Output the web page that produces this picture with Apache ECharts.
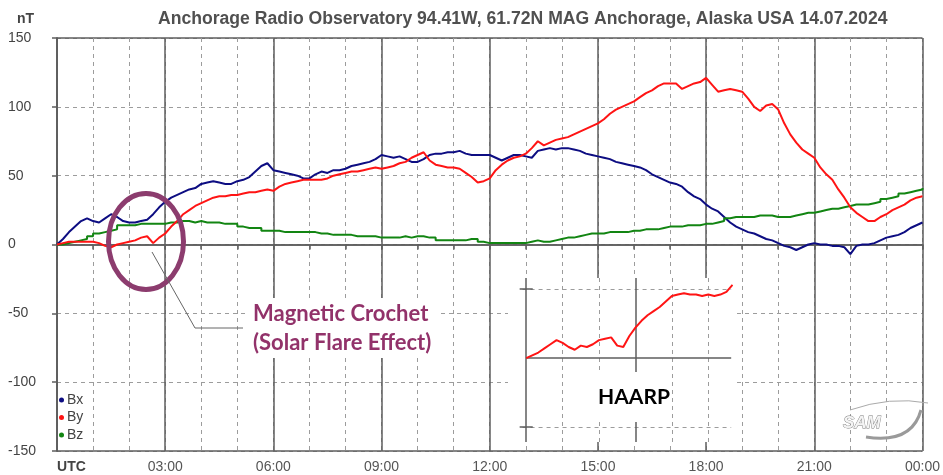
<!DOCTYPE html>
<html>
<head>
<meta charset="utf-8">
<script src="https://cdn.jsdelivr.net/npm/echarts@6/dist/echarts.min.js"></script>
<style>
html,body{margin:0;padding:0;background:#fff;}
#main{position:absolute;left:0;top:0;width:943px;height:475px;}
#inset{position:absolute;left:508px;top:278px;width:225px;height:164px;background:#fff;}
</style>
</head>
<body>
<div id="main"></div>
<div id="inset"></div>
<script>
// ---- categories: time of day in hours, 10-minute steps ----
const TIMES = Array.from({length: 145}, (_, i) => i / 6);
const X_LABELS = ['UTC','03:00','06:00','09:00','12:00','15:00','18:00','21:00','00:00'];
const SERIES_NAMES = ['Bx','By','Bz'];

// ---- Bx (nT) ----
const BX = [
  0,4,9,13,17,19,
  17,16,19,22,20,17,
  16,16,17,18,22,27,
  31,34,36,38,40,41,
  44,45,46,45,44,44,
  46,47,49,53,57,59,
  54,53,52,51,50,48,
  48,51,53,52,54,54,
  55,57,58,59,60,62,
  65,64,63,64,62,60,
  60,62,65,66,66,67,
  67,68,66,65,65,65,
  65,63,61,63,65,65,
  64,63,68,69,70,69,
  70,70,69,68,66,65,
  64,63,62,60,59,58,
  57,56,54,51,49,47,
  45,44,42,38,35,33,
  29,26,24,20,16,13,
  11,9,8,6,4,3,
  1,-1,-2,-4,-2,0,
  1,0,0,-1,-1,-2,
  -7,-1,0,0,1,3,
  5,6,7,9,12,14,
  16
];
// ---- By (nT) ----
const BY = [
  0,1,2,2,2,2,
  2,1,-1,-2,0,1,
  2,3,5,6,1,5,
  8,13,17,22,25,28,
  30,32,34,35,35,36,
  36,37,38,38,39,40,
  39,42,44,45,46,47,
  47,47,47,48,50,51,
  52,53,53,54,55,56,
  55,56,57,59,60,63,
  65,67,61,58,57,56,
  56,55,52,49,45,46,
  48,54,58,61,63,64,
  66,70,75,72,74,76,
  77,78,80,82,84,86,
  88,91,95,98,100,102,
  104,107,110,112,115,117,
  117,117,113,115,117,118,
  121,116,111,112,113,112,
  111,106,100,97,101,102,
  98,88,80,74,69,66,
  63,56,51,47,40,34,
  27,23,20,17,17,20,
  22,25,27,29,32,34,
  35
];
// ---- Bz (nT) ----
const BZ = [
  0,1,2,3,4,6,
  8,9,10,11,14,14,
  14,15,15,15,15,15,
  16,16,17,17,16,17,
  16,16,16,15,15,15,
  13,12,12,12,10,10,
  10,9,9,9,9,9,
  9,8,8,7,7,7,
  7,6,6,6,6,5,
  5,5,5,6,5,6,
  6,5,5,3,3,3,
  3,3,4,4,2,1,
  1,1,1,1,1,1,
  2,3,2,2,3,4,
  5,5,6,7,8,8,
  8,9,9,9,9,10,
  10,11,11,11,12,13,
  13,13,14,14,14,15,
  15,16,17,19,20,20,
  20,20,21,21,21,20,
  20,20,21,22,23,23,
  24,25,26,26,27,28,
  29,29,29,30,31,33,
  34,35,37,38,39,40,
  41
];
// ---- HAARP inset, By (nT), 10-minute steps from 00:00 ----
const HAARP_TIMES = Array.from({length: 35}, (_, i) => i / 6);
const HAARP_BY = [
  0,2,4,7,10,13,
  11,8,6,9,8,10,
  13,14,15,9,8,16,
  22,27,31,34,37,41,
  45,46,47,46,46,45,
  46,45,46,48,53
];

const FONT = "'Liberation Sans', Arial, sans-serif";
const GRID_SOLID = '#5e5e5e';
const GRID_DASH = '#9c9c9c';

const pairs = (xs, ys) => xs.map((t, i) => [t, ys[i]]);

const main = echarts.init(document.getElementById('main'), null, {renderer: 'canvas'});
main.setOption({
  animation: false,
  backgroundColor: '#fff',
  textStyle: {fontFamily: FONT},
  title: [
    {text: 'Anchorage Radio Observatory 94.41W, 61.72N MAG Anchorage, Alaska USA 14.07.2024',
     left: 158, top: 10, padding: 0,
     textStyle: {fontSize: 17.6, fontWeight: 'bold', color: '#505050', fontFamily: FONT}},
    {text: 'nT', left: 17, top: 12, padding: 0,
     textStyle: {fontSize: 14, fontWeight: 'bold', color: '#444', fontFamily: FONT}}
  ],
  grid: {left: 57, top: 38, right: 13, bottom: 24},
  legend: {
    data: SERIES_NAMES, orient: 'vertical', left: 59, top: 393, padding: 0,
    icon: 'circle', itemWidth: 5, itemHeight: 5, itemGap: 3.5,
    textStyle: {fontSize: 14, color: '#444', lineHeight: 14, fontFamily: FONT, padding: [0, 0, 0, -2]}
  },
  xAxis: [
    {type: 'value', min: 0, max: 24, interval: 1,
     axisLine: {show: true, lineStyle: {color: GRID_SOLID, width: 1.5}},
     axisTick: {show: true, length: 5, lineStyle: {color: GRID_SOLID, width: 1.5}},
     axisLabel: {
       margin: 9, fontSize: 14, color: '#555', fontFamily: FONT,
       formatter: v => (v % 3 === 0 ? (v === 0 ? '{u|' + X_LABELS[0] + '}' : X_LABELS[v / 3]) : ''),
       rich: {u: {fontWeight: 'bold', color: '#444', fontSize: 14, fontFamily: FONT, padding: [0, 0, 0, 29]}}
     },
     splitLine: {show: true, lineStyle: {type: [4, 4], color: GRID_DASH, width: 1}}},
    {type: 'value', min: 0, max: 24, interval: 3, position: 'top',
     axisLine: {show: false}, axisTick: {show: false}, axisLabel: {show: false},
     splitLine: {show: true, lineStyle: {type: 'solid', color: GRID_SOLID, width: 1.5}}}
  ],
  yAxis: [
    {type: 'value', min: -150, max: 150, interval: 50,
     axisLine: {show: true, lineStyle: {color: GRID_SOLID, width: 1.5}},
     axisTick: {show: true, length: 5, lineStyle: {color: GRID_SOLID, width: 1.5}},
     axisLabel: {align: 'left', margin: 49, fontSize: 14, color: '#444', fontFamily: FONT},
     splitLine: {show: true, lineStyle: {type: [4, 4], color: GRID_DASH, width: 1}}},
    {type: 'value', min: -150, max: 150, interval: 150, position: 'right',
     axisLine: {show: true, lineStyle: {color: GRID_SOLID, width: 1.5}},
     axisTick: {show: false}, axisLabel: {show: false},
     splitLine: {show: true, lineStyle: {type: 'solid', color: GRID_SOLID, width: 1.5}}}
  ],
  series: [
    {name: 'Bx', type: 'line', data: pairs(TIMES, BX), showSymbol: false, z: 3,
     lineStyle: {width: 2, color: '#0d0d82'}, itemStyle: {color: '#0d0d82'}},
    {name: 'By', type: 'line', data: pairs(TIMES, BY), showSymbol: false, z: 4,
     lineStyle: {width: 2, color: '#ff1414'}, itemStyle: {color: '#ff1414'}},
    {name: 'Bz', type: 'line', data: pairs(TIMES, BZ), showSymbol: false, step: 'end', z: 3,
     lineStyle: {width: 2, color: '#128512'}, itemStyle: {color: '#128512'}}
  ],
  graphic: {elements: [
    {type: 'ellipse', z: 100, shape: {cx: 146, cy: 241.5, rx: 37.5, ry: 48},
     style: {fill: 'none', stroke: '#8c3c6e', lineWidth: 5}},
    {type: 'polyline', z: 100, shape: {points: [[152, 252], [195, 328], [243, 328]]},
     style: {fill: 'none', stroke: '#666', lineWidth: 1}},
    {type: 'text', z: 100, x: 247, y: 298,
     style: {text: 'Magnetic Crochet\n(Solar Flare Effect)', fill: '#92326a',
             font: "bold 22px Lato, 'Open Sans', sans-serif", lineHeight: 29,
             backgroundColor: '#fff', padding: [1, 6, 1, 6]}},
    {type: 'bezierCurve', z: 100, shape: {x1: 866, y1: 437, cpx1: 912, cpy1: 444, x2: 921, y2: 410},
     style: {fill: 'none', stroke: '#9a9a9a', lineWidth: 3}},
    {type: 'bezierCurve', z: 100, shape: {x1: 850, y1: 410, cpx1: 890, cpy1: 396, x2: 928, y2: 403},
     style: {fill: 'none', stroke: '#aaaaaa', lineWidth: 1}},
    {type: 'text', z: 100, x: 843, y: 415,
     style: {text: 'SAM', fill: '#f4f4f4', stroke: '#7a7a7a', lineWidth: 0.8,
             font: "italic bold 17px 'Liberation Sans', sans-serif"}}
  ]}
});

// ---- HAARP inset ----
const inset = echarts.init(document.getElementById('inset'), null, {renderer: 'canvas'});
const solid = {type: 'solid', color: GRID_SOLID, width: 1.5};
const dash = {type: [4, 4], color: GRID_DASH, width: 1};
inset.setOption({
  animation: false,
  backgroundColor: '#fff',
  grid: {left: 0, right: 0, top: 0, bottom: 0},
  xAxis: {type: 'value', min: -0.5, max: 5.68, show: false},
  yAxis: {type: 'value', min: -60.8, max: 58, show: false},
  series: [
    {type: 'line', data: [], z: 1, silent: true,
     markLine: {silent: true, symbol: 'none', label: {show: false}, animation: false,
       data: [
         {xAxis: 1, lineStyle: dash}, {xAxis: 2, lineStyle: dash},
         {xAxis: 4, lineStyle: dash}, {xAxis: 5, lineStyle: dash},
         [{coord: [-0.1, 50], lineStyle: dash}, {coord: [5.63, 50]}],
         [{coord: [-0.1, -50], lineStyle: dash}, {coord: [5.63, -50]}],
         {xAxis: 0, lineStyle: solid}, {xAxis: 3, lineStyle: solid},
         [{coord: [0, 0], lineStyle: solid}, {coord: [5.63, 0]}],
         [{coord: [-0.18, 50], lineStyle: solid}, {coord: [0.18, 50]}],
         [{coord: [-0.18, -50], lineStyle: solid}, {coord: [0.18, -50]}]
       ]}},
    {type: 'line', data: pairs(HAARP_TIMES, HAARP_BY), showSymbol: false, z: 5,
     lineStyle: {width: 2, color: '#ff1414'}}
  ],
  graphic: {elements: [
    {type: 'text', z: 100, x: 126, y: 119,
     style: {text: 'HAARP', fill: '#000', font: "bold 21px Lato, 'Open Sans', sans-serif",
             align: 'center', verticalAlign: 'middle', backgroundColor: '#fff', padding: [24, 2, 5, 2]}}
  ]}
});
</script>
</body>
</html>
